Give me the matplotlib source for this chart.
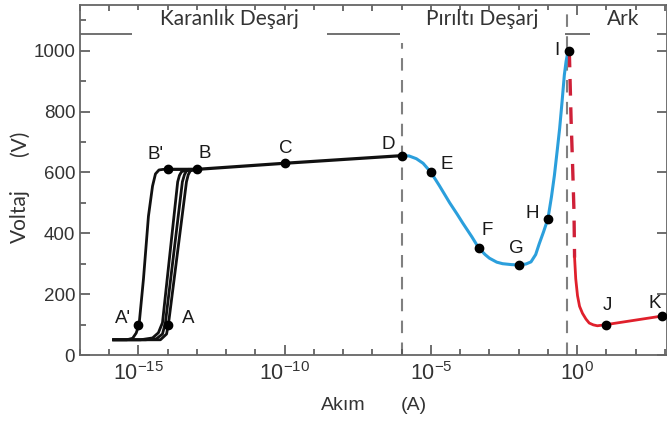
import numpy as np
import matplotlib.pyplot as plt
from matplotlib.patches import Rectangle
from matplotlib.ticker import FixedLocator, FuncFormatter

plt.rcParams['font.family'] = ['Liberation Sans', 'DejaVu Sans']
plt.rcParams['mathtext.fontset'] = 'custom'
plt.rcParams['mathtext.rm'] = 'Liberation Sans'
plt.rcParams['mathtext.it'] = 'Liberation Sans:italic'

# dark discharge (black) curves: log10(current), voltage
dark1_lx = [-15.85, -15.4, -15.2, -15.08, -14.98, -14.83, -14.66, -14.52, -14.42, -14.3, -14.15, -14.0]
dark1_v = [50, 50, 55, 72, 100, 250, 456, 555, 595, 608, 610, 610]
dark2_lx = [-15.85, -14.93, -14.52, -14.32, -14.18, -13.66, -13.6, -13.53, -13.3, -13.0]
dark2_v = [50, 50, 56, 73, 106, 569, 590, 602, 610, 610]
dark3_lx = [-15.85, -14.76, -14.39, -14.18, -14.08, -13.50, -13.43, -13.36, -13.1, -13.0]
dark3_v = [50, 50, 53, 69, 106, 569, 592, 605, 610, 610]
dark4_lx = [-15.85, -14.59, -14.25, -14.04, -13.97, -13.36, -13.3, -13.23, -13.0]
dark4_v = [50, 50, 50, 69, 106, 569, 592, 605, 610]
plateau_lx = [-14.0, -13.0, -10.0, -6.0]
plateau_v = [610, 610, 630, 655]

# glow discharge (blue)
glow_lx = [-6.0, -5.75, -5.5, -5.27, -5.0, -4.71, -4.36, -4.1, -3.91, -3.6, -3.37, -3.15, -3.0,
           -2.75, -2.55, -2.25, -2.0, -1.75, -1.58, -1.42, -1.3, -1.15, -1.0, -0.88, -0.78,
           -0.68, -0.6, -0.52, -0.44, -0.38, -0.32]
glow_v = [655, 654, 645, 630, 600, 556, 500, 462, 433, 388, 352, 330, 318,
          305, 300, 297, 296, 299, 306, 330, 365, 405, 448, 520, 590,
          675, 745, 830, 920, 965, 995]

# arc (red)
arc_dash_lx = [-0.27, -0.21, -0.16, -0.11, -0.09]
arc_dash_v = [1000, 775, 630, 470, 320]
arc_lx = [-0.09, -0.05, 0.01, 0.08, 0.18, 0.3, 0.41, 0.55, 0.69, 1.0, 2.9]
arc_v = [320, 250, 195, 160, 137, 118, 105, 99, 96, 100, 128]

# marked points
pt_names = ["A'", "A", "B'", "B", "C", "D", "E", "F", "G", "H", "I", "J", "K"]
pt_lx = [-15.0, -14.0, -14.0, -13.0, -10.0, -6.0, -5.0, -3.37, -2.0, -1.0, -0.27, 1.0, 2.9]
pt_v = [100, 100, 610, 610, 630, 655, 600, 352, 296, 448, 1000, 100, 128]
pt_off = [(-16, 6), (20, 6), (-12, 15), (8, 16), (1, 15), (-13, 11), (16, 8),
          (9, 17), (-2, 16), (-16, 5), (-12, 0), (1, 19), (-7, 13)]

region_lx = [-6.0, -0.35]
band_v = 1055
region_names = ['Karanlık Deşarj', 'Pırıltı Deşarj', 'Ark']

def p(lx):
    return 10.0 ** np.array(lx)

fig = plt.figure(figsize=(6.67, 4.21), dpi=100)
ax = fig.add_axes([80 / 667, 66 / 421, 587 / 667, 350 / 421])

for x in region_lx:
    ax.axvline(10.0 ** x, color='#808080', lw=1.5, dashes=(6, 4.5), zorder=1)
ax.axhline(band_v, color='#666666', lw=1.3, zorder=1.1)

for lx, v in [(dark1_lx, dark1_v), (dark2_lx, dark2_v), (dark3_lx, dark3_v), (dark4_lx, dark4_v)]:
    ax.plot(p(lx), v, color='#111111', lw=2.0, zorder=3)
ax.plot(p(plateau_lx), plateau_v, color='#111111', lw=2.3, zorder=3)
ax.plot(p(glow_lx), glow_v, color='#2b9fdc', lw=2.2, zorder=3)
ax.plot(p(arc_dash_lx), arc_dash_v, color='#cf2038', lw=2.4, dashes=(5, 3.5), zorder=3)
ax.plot(p(arc_lx), arc_v, color='#e0202c', lw=2.0, zorder=3)
ax.plot(p(pt_lx), pt_v, 'o', color='#000000', ms=6, zorder=4, ls='none')

for name, lx, v, off in zip(pt_names, pt_lx, pt_v, pt_off):
    ax.annotate(name, (10.0 ** lx, v), xytext=off, textcoords='offset pixels',
                ha='center', va='center', fontsize=13.5, color='#1a1a1a', zorder=5)

# region label boxes
boxes = [(0.0886, 0.4208), (0.545, 0.826), (0.869, 0.983)]
for (x0, x1), name in zip(boxes, region_names):
    ax.add_patch(Rectangle((x0, 0.8914), x1 - x0, 0.9857 - 0.8914, transform=ax.transAxes,
                           facecolor='white', edgecolor='none', zorder=2.2))
    ax.text((x0 + x1) / 2, 0.96, name, transform=ax.transAxes, ha='center', va='center',
            fontsize=15, family='Lato', color='#333333', zorder=5)

ax.set_xscale('log')
ax.set_xlim(1e-17, 10 ** 3.07)
ax.set_ylim(0, 1150)
ax.xaxis.set_major_locator(FixedLocator([1e-15, 1e-10, 1e-5, 1e0]))
ax.xaxis.set_minor_locator(FixedLocator(10.0 ** np.arange(-17, 4)))
ax.xaxis.set_major_formatter(FuncFormatter(lambda x, pos: r'$10^{%d}$' % round(np.log10(x))))
ax.xaxis.set_minor_formatter(FuncFormatter(lambda x, pos: ''))
ax.yaxis.set_major_locator(FixedLocator([0, 200, 400, 600, 800, 1000]))
ax.yaxis.set_minor_locator(FixedLocator([100, 300, 500, 700, 900, 1100]))

ax.tick_params(which='both', direction='in', top=True, right=True, color='#555555',
               labelcolor='#333333', width=1.2)
ax.tick_params(axis='y', labelsize=13.5)
ax.tick_params(axis='x', labelsize=15.5, pad=5)
ax.tick_params(which='major', length=7)
ax.tick_params(which='minor', length=4)
ax.tick_params(axis='y', which='minor', right=False)
for s in ax.spines.values():
    s.set_color('#666666')
    s.set_linewidth(1.3)

fig.text(20 / 667, 1 - 216 / 421, 'Voltaj', rotation=90, ha='center', va='center',
         fontsize=15, family='Lato', color='#333333')
fig.text(20 / 667, 1 - 143 / 421, '(V)', rotation=90, ha='center', va='center',
         fontsize=15, family='Lato', color='#333333')
fig.text(343 / 667, 1 - 405 / 421, 'Akım', ha='center', va='center', fontsize=14, color='#333333')
fig.text(414 / 667, 1 - 405 / 421, '(A)', ha='center', va='center', fontsize=14, color='#333333')

fig.savefig('out.png', dpi=100)
